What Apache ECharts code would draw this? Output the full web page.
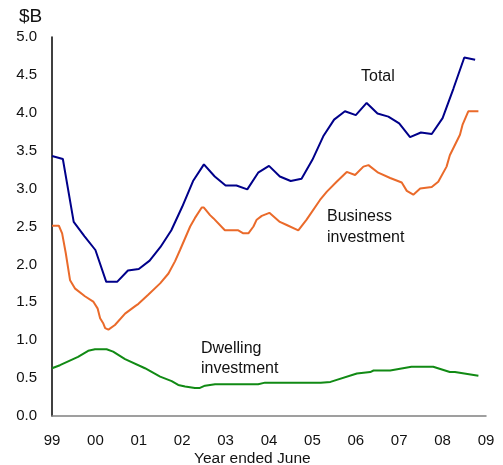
<!DOCTYPE html>
<html>
<head>
<meta charset="utf-8">
<script src="https://cdn.jsdelivr.net/npm/echarts@6/dist/echarts.min.js"></script>
<style>
html,body{margin:0;padding:0;background:#fff;}
#chart{width:503px;height:465px;}
</style>
</head>
<body>
<div id="chart"></div>
<script>
// Months since June 1999
var xTickLabels = ['99','00','01','02','03','04','05','06','07','08','09'];
var yTicks = [0, 0.5, 1, 1.5, 2, 2.5, 3, 3.5, 4, 4.5, 5];

// Total (quarterly)
var totalMonths = [0,3,6,9,12,15,18,21,24,27,30,33,36,39,42,45,48,51,54,57,60,63,66,69,72,75,78,81,84,87,90,93,96,99,102,105,108,111,114,117];
var totalValues = [3.43,3.39,2.56,2.37,2.19,1.77,1.77,1.92,1.94,2.05,2.23,2.45,2.76,3.10,3.32,3.16,3.04,3.04,2.99,3.21,3.30,3.16,3.10,3.13,3.38,3.69,3.91,4.02,3.97,4.13,3.99,3.95,3.86,3.68,3.74,3.72,3.93,4.32,4.73,4.70];

// Business investment
var businessMonths = [0,1.9,2.8,3.8,5,6.4,9.1,11.4,12.6,13.3,14.2,14.7,15.6,17.4,20.2,23,23.9,26.6,29.9,32.2,34,35.4,38.2,39.5,41.4,42,43.7,44.6,47.8,51.5,52.9,54.3,55.7,56.6,58,60.1,63,64.9,68.1,70.4,74.1,76,78.7,81.5,83.8,86.1,87.5,90.2,93.5,96.7,98.1,99.9,101.8,105,106.8,109.1,110,112.8,113.5,115.1,117.9];
var businessValues = [2.51,2.51,2.41,2.15,1.79,1.68,1.58,1.51,1.42,1.29,1.22,1.16,1.14,1.20,1.35,1.45,1.48,1.60,1.75,1.88,2.04,2.19,2.50,2.61,2.75,2.75,2.65,2.61,2.45,2.45,2.41,2.41,2.50,2.59,2.64,2.68,2.56,2.52,2.45,2.59,2.85,2.96,3.09,3.22,3.18,3.29,3.31,3.21,3.14,3.08,2.97,2.92,3.00,3.02,3.09,3.29,3.44,3.71,3.84,4.02,4.02];

// Dwelling investment
var dwellingMonths = [0,2.2,7.2,10,11.9,15.1,16.9,20.2,25.7,29.9,33.1,34.9,36.8,39.5,40.9,42.3,45.1,57,58.9,74.3,77,84.3,88,88.9,93.5,99.4,105.4,110,111.4,117.9];
var dwellingValues = [0.63,0.67,0.78,0.86,0.88,0.88,0.85,0.75,0.63,0.52,0.46,0.41,0.39,0.37,0.37,0.40,0.42,0.42,0.44,0.44,0.45,0.56,0.58,0.60,0.60,0.65,0.65,0.58,0.58,0.53];

function pairs(xs, ys){ return xs.map(function(x,i){ return [x, ys[i]]; }); }

var FONT = '"Liberation Sans", Arial, sans-serif';
var chart = echarts.init(document.getElementById('chart'), null, {renderer:'canvas'});
chart.setOption({
  animation: false,
  backgroundColor: '#ffffff',
  grid: {left: 52, right: 17, top: 37, bottom: 49, containLabel: false},
  xAxis: {
    type: 'value', min: 0, max: 120, interval: 12,
    axisLine: {show: true, onZero: false, lineStyle: {color: '#808080', width: 1.5}},
    axisTick: {show: false},
    splitLine: {show: false},
    axisLabel: {
      margin: 17, color: '#111', fontSize: 15, fontFamily: FONT,
      formatter: function(v){ return xTickLabels[Math.round(v/12)] || ''; }
    }
  },
  yAxis: {
    type: 'value', min: 0, max: 5, interval: 0.5,
    axisLine: {show: true, lineStyle: {color: '#000', width: 1.5}},
    axisTick: {show: false},
    splitLine: {show: false},
    axisLabel: {
      margin: 15, color: '#111', fontSize: 15, fontFamily: FONT,
      formatter: function(v){ return v.toFixed(1); }
    }
  },
  series: [
    {name: 'Total', type: 'line', data: pairs(totalMonths, totalValues), symbol: 'none',
     lineStyle: {color: '#00008a', width: 2}, z: 3},
    {name: 'Business investment', type: 'line', data: pairs(businessMonths, businessValues), symbol: 'none',
     lineStyle: {color: '#ea6a2a', width: 2}, z: 2},
    {name: 'Dwelling investment', type: 'line', data: pairs(dwellingMonths, dwellingValues), symbol: 'none',
     lineStyle: {color: '#118a14', width: 2}, z: 2}
  ],
  graphic: [
    {type: 'text', left: 19, top: 7, style: {text: '$B', font: '19px ' + FONT, fill: '#111'}},
    {type: 'text', left: 361, top: 69, style: {text: 'Total', font: '16px ' + FONT, fill: '#111'}},
    {type: 'text', left: 327, top: 206, style: {text: 'Business\ninvestment', font: '16px ' + FONT, fill: '#111', lineHeight: 21}},
    {type: 'text', left: 201, top: 339, style: {text: 'Dwelling\ninvestment', font: '16px ' + FONT, fill: '#111', lineHeight: 20}},
    {type: 'text', left: 194, top: 451, style: {text: 'Year ended June', font: '15.5px ' + FONT, fill: '#111'}}
  ]
});
</script>
</body>
</html>
